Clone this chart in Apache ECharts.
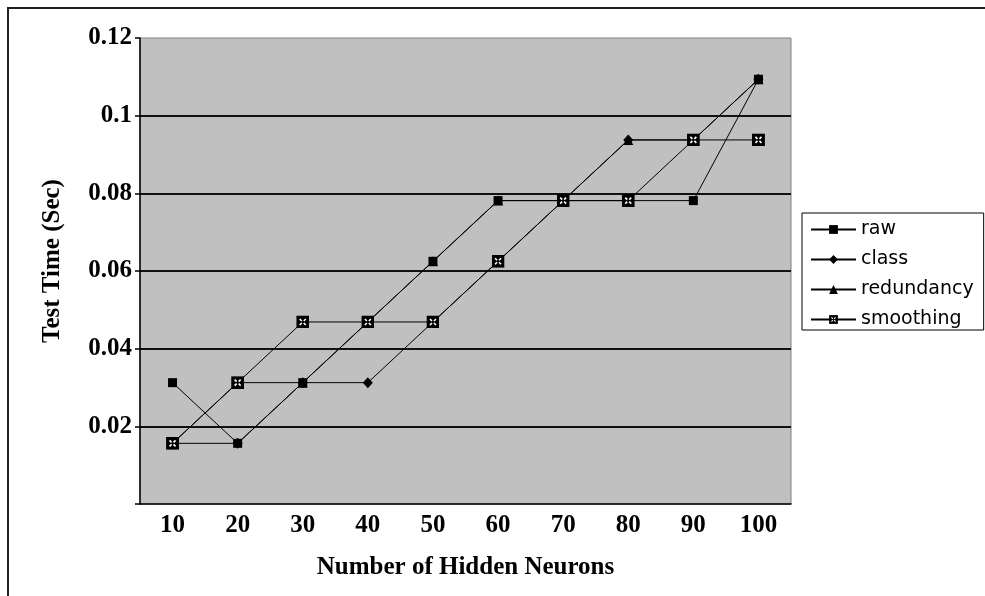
<!DOCTYPE html>
<html>
<head>
<meta charset="utf-8">
<script src="https://cdn.jsdelivr.net/npm/echarts@6/dist/echarts.min.js"></script>
<style>
html,body{margin:0;padding:0;background:#fff;}
#c{width:985px;height:596px;}
</style>
</head>
<body>
<div id="c"></div>
<script>
// ---- data ----
const categories = ['10', '20', '30', '40', '50', '60', '70', '80', '90', '100'];
const rawValues = [0.03125, 0.015625, 0.03125, 0.046875, 0.0625, 0.078125, 0.078125, 0.078125, 0.078125, 0.109375];
const classValues = [0.015625, 0.015625, 0.03125, 0.03125, 0.046875, 0.0625, 0.078125, 0.09375, 0.09375, 0.109375];
const redundancyValues = [0.015625, 0.03125, 0.03125, 0.046875, 0.0625, 0.078125, 0.078125, 0.09375, 0.09375, 0.109375];
const smoothingValues = [0.015625, 0.03125, 0.046875, 0.046875, 0.046875, 0.0625, 0.078125, 0.078125, 0.09375, 0.09375];
const yTickLabels = ['', '0.02', '0.04', '0.06', '0.08', '0.1', '0.12'];
const seriesNames = ['raw', 'class', 'redundancy', 'smoothing'];
const xTitle = 'Number of Hidden Neurons';
const yTitle = 'Test Time (Sec)';

// ---- styles ----
const svg = "<svg xmlns='http://www.w3.org/2000/svg' width='13' height='13' viewBox='0 0 13 13'>" +
  "<rect x='0' y='0' width='13' height='13' fill='black'/>" +
  "<path d='M3.5 3.5 L5.5 5.5 M9.5 3.5 L7.5 5.5 M3.5 9.5 L5.5 7.5 M9.5 9.5 L7.5 7.5' stroke='white' stroke-width='1.6'/>" +
  "</svg>";
const smoothSymbol = 'image://data:image/svg+xml;charset=utf-8,' + encodeURIComponent(svg);

const serifBold = {fontFamily: '"Liberation Serif", "Times New Roman", serif', fontWeight: 'bold', fontSize: 25, color: '#000'};

function lineSeries(name, data, symbol, size) {
  return {
    name: name, type: 'line', data: data,
    symbol: symbol, symbolSize: size,
    lineStyle: {color: '#000', width: 1},
    itemStyle: {color: '#000', borderWidth: 0},
    emphasis: {disabled: true},
    animation: false
  };
}

const chart = echarts.init(document.getElementById('c'), null, {renderer: 'canvas'});
chart.setOption({
  animation: false,
  backgroundColor: '#fff',
  graphic: [{
    type: 'rect', shape: {x: 8, y: 8, width: 1000, height: 600},
    style: {fill: 'none', stroke: '#222', lineWidth: 2}, silent: true
  }],
  grid: {
    left: 140, top: 38, right: 194, bottom: 92,
    show: true, backgroundColor: '#C0C0C0', borderColor: '#808080', borderWidth: 1
  },
  legend: {
    orient: 'vertical', left: 802, top: 213,
    itemWidth: 45, itemHeight: 11, itemGap: 11,
    padding: [7, 10, 1, 8],
    borderColor: '#000', borderWidth: 1, backgroundColor: '#fff',
    textStyle: {fontFamily: '"DejaVu Sans", sans-serif', fontSize: 19, color: '#000'},
    data: seriesNames
  },
  xAxis: {
    type: 'category', data: categories, boundaryGap: true,
    name: xTitle, nameLocation: 'middle', nameGap: 51, nameTextStyle: serifBold,
    axisLine: {lineStyle: {color: '#000', width: 1.5}},
    axisTick: {inside: true, length: 6, lineStyle: {color: '#000', width: 1.5}},
    axisLabel: Object.assign({margin: 9}, serifBold),
    splitLine: {show: false}
  },
  yAxis: {
    type: 'value', min: 0, max: 0.12, interval: 0.02,
    name: yTitle, nameLocation: 'middle', nameGap: 75,
    nameTextStyle: Object.assign({padding: [0, 0, 0, 20]}, serifBold),
    axisLine: {show: true, lineStyle: {color: '#000', width: 1.5}},
    axisTick: {show: true, length: 5, lineStyle: {color: '#000', width: 1.5}},
    axisLabel: Object.assign({
      margin: 8,
      formatter: function (v, i) { return yTickLabels[i] !== undefined ? yTickLabels[i] : ''; }
    }, serifBold),
    splitLine: {show: true, lineStyle: {color: ['transparent', '#111', '#111', '#111', '#111', '#111', 'transparent'], width: 2}}
  },
  series: [
    lineSeries(seriesNames[0], rawValues, 'rect', 9),
    lineSeries(seriesNames[1], classValues, 'diamond', [10, 11]),
    lineSeries(seriesNames[2], redundancyValues, 'triangle', 10),
    lineSeries(seriesNames[3], smoothingValues, smoothSymbol, 13)
  ]
});
</script>
</body>
</html>
